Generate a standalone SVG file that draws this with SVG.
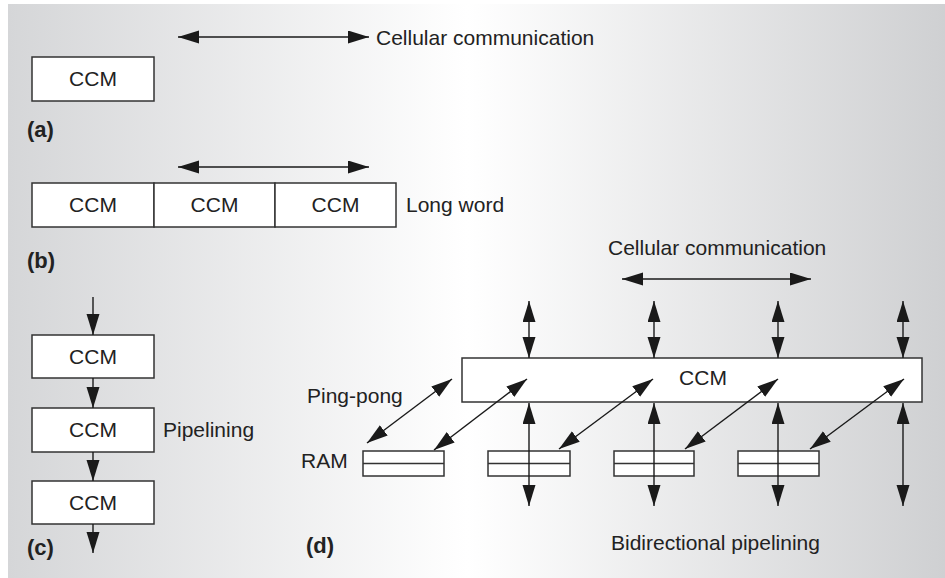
<svg xmlns="http://www.w3.org/2000/svg" width="945" height="578" viewBox="0 0 945 578">
  <defs>
    <linearGradient id="bg" x1="0" y1="0" x2="1" y2="0">
      <stop offset="0" stop-color="#d5d6d8"/>
      <stop offset="0.49" stop-color="#ffffff"/>
      <stop offset="1" stop-color="#cfd0d2"/>
    </linearGradient>
    <marker id="head" markerUnits="userSpaceOnUse" markerWidth="22" markerHeight="14" refX="21" refY="6.5" orient="auto-start-reverse">
      <path d="M0,0 L21,6.5 L0,13 z" fill="#1a1a1a"/>
    </marker>
  </defs>
  <style>
    .box { fill: #ffffff; stroke: #333333; stroke-width: 1.5; }
    .lbl { font-family: "Liberation Sans", Arial, sans-serif; font-size: 21px; fill: #222222; }
    .mid { text-anchor: middle; }
    .tag { font-family: "Liberation Sans", Arial, sans-serif; font-size: 22px; font-weight: bold; fill: #222222; }
    .arr { stroke: #1a1a1a; stroke-width: 1.4; fill: none; marker-end: url(#head); }
    .bi { marker-start: url(#head); }
  </style>

  <!-- panel background -->
  <rect x="8" y="4" width="937" height="574" fill="url(#bg)"/>

  <!-- (a) single module -->
  <g id="a-ccm">
    <rect class="box" x="32" y="57" width="122" height="44"/>
    <text class="lbl mid" x="93" y="86">CCM</text>
  </g>
  <g id="a-label">
    <text class="lbl" x="376" y="45">Cellular communication</text>
    <text class="tag" x="27" y="137">(a)</text>
  </g>

  <!-- (b) long word -->
  <g id="b-ccm1">
    <rect class="box" x="32" y="183" width="122" height="44"/>
    <text class="lbl mid" x="93" y="212">CCM</text>
  </g>
  <g id="b-ccm2">
    <rect class="box" x="154" y="183" width="121" height="44"/>
    <text class="lbl mid" x="214.5" y="212">CCM</text>
  </g>
  <g id="b-ccm3">
    <rect class="box" x="275" y="183" width="121" height="44"/>
    <text class="lbl mid" x="335.5" y="212">CCM</text>
  </g>
  <g id="b-label">
    <text class="lbl" x="406" y="212">Long word</text>
    <text class="tag" x="27" y="268">(b)</text>
  </g>

  <!-- (c) pipelining -->
  <g id="c-ccm1">
    <rect class="box" x="32" y="335" width="122" height="43"/>
    <text class="lbl mid" x="93" y="364">CCM</text>
  </g>
  <g id="c-ccm2">
    <rect class="box" x="32" y="408" width="122" height="44"/>
    <text class="lbl mid" x="93" y="437">CCM</text>
  </g>
  <g id="c-ccm3">
    <rect class="box" x="32" y="481" width="122" height="43"/>
    <text class="lbl mid" x="93" y="510">CCM</text>
  </g>
  <g id="c-label">
    <text class="lbl" x="163" y="437">Pipelining</text>
    <text class="tag" x="27" y="555">(c)</text>
  </g>

  <!-- (d) bidirectional pipelining -->
  <g id="d-ram1"><rect class="box" x="363" y="451" width="81" height="25"/><line x1="363" y1="463.5" x2="444" y2="463.5" stroke="#333" stroke-width="1.5"/></g>
  <g id="d-ram2"><rect class="box" x="488" y="451" width="82" height="25"/><line x1="488" y1="463.5" x2="570" y2="463.5" stroke="#333" stroke-width="1.5"/></g>
  <g id="d-ram3"><rect class="box" x="614" y="451" width="80" height="25"/><line x1="614" y1="463.5" x2="694" y2="463.5" stroke="#333" stroke-width="1.5"/></g>
  <g id="d-ram4"><rect class="box" x="738" y="451" width="81" height="25"/><line x1="738" y1="463.5" x2="819" y2="463.5" stroke="#333" stroke-width="1.5"/></g>
  <g id="d-ccm">
    <rect class="box" x="462" y="358" width="460" height="44"/>
    <text class="lbl mid" x="703" y="385">CCM</text>
  </g>
  <g id="d-label">
    <text class="lbl" x="608" y="255">Cellular communication</text>
    <text class="lbl" x="307" y="403">Ping-pong</text>
    <text class="lbl" x="301" y="468">RAM</text>
    <text class="lbl" x="611" y="550">Bidirectional pipelining</text>
    <text class="tag" x="306" y="553">(d)</text>
  </g>

  <!-- connectors -->
  <g id="connectors">
    <!-- (a) and (b) -->
    <line class="arr bi" x1="178" y1="37" x2="369" y2="37"/>
    <line class="arr bi" x1="178" y1="167" x2="369" y2="167"/>
    <!-- (c) -->
    <line class="arr" x1="93" y1="297" x2="93" y2="335"/>
    <line class="arr" x1="93" y1="378" x2="93" y2="408"/>
    <line class="arr" x1="93" y1="452" x2="93" y2="481"/>
    <line class="arr" x1="93" y1="524" x2="93" y2="553"/>
    <!-- (d) cellular communication -->
    <line class="arr bi" x1="622" y1="279" x2="811" y2="279"/>
    <!-- (d) vertical, above the module -->
    <line class="arr bi" x1="529" y1="301" x2="529" y2="358"/>
    <line class="arr bi" x1="654" y1="301" x2="654" y2="358"/>
    <line class="arr bi" x1="778" y1="301" x2="778" y2="358"/>
    <line class="arr bi" x1="903" y1="301" x2="903" y2="358"/>
    <!-- (d) vertical, below the module -->
    <line class="arr bi" x1="529" y1="403" x2="529" y2="506"/>
    <line class="arr bi" x1="654" y1="403" x2="654" y2="506"/>
    <line class="arr bi" x1="778" y1="403" x2="778" y2="506"/>
    <line class="arr bi" x1="903" y1="403" x2="903" y2="506"/>
    <!-- (d) ping-pong diagonals -->
    <line class="arr bi" x1="367" y1="443" x2="452" y2="379"/>
    <line class="arr bi" x1="434" y1="450" x2="527" y2="379"/>
    <line class="arr bi" x1="559" y1="449" x2="653" y2="379"/>
    <line class="arr bi" x1="685" y1="449" x2="778" y2="379"/>
    <line class="arr bi" x1="810" y1="449" x2="904" y2="379"/>
  </g>
</svg>
